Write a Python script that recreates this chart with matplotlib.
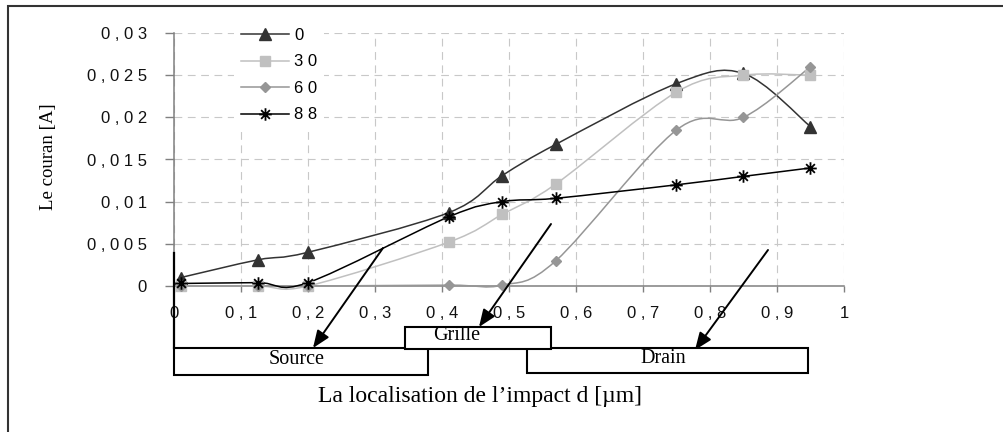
import numpy as np
import matplotlib

matplotlib.use("Agg")
import matplotlib.pyplot as plt
from matplotlib.lines import Line2D
from matplotlib.patches import FancyArrowPatch, PathPatch, Rectangle, ArrowStyle
from matplotlib.path import Path

SANS = ["Liberation Sans", "DejaVu Sans"]
SERIF = ["Liberation Serif", "DejaVu Serif"]

# impact location d [um] and current [A] per series (legend 0 / 30 / 60 / 88)
d_um = [0.01, 0.125, 0.2, 0.41, 0.49, 0.57, 0.75, 0.85, 0.95]
i_0 = [0.001, 0.0031, 0.004, 0.0087, 0.0131, 0.0168, 0.024, 0.0252, 0.0189]
i_30 = [0.0, 0.0, 0.0, 0.0052, 0.0085, 0.0121, 0.023, 0.025, 0.025]
i_60 = [0.0, 0.0, 0.0, 0.0001, 0.0001, 0.003, 0.0185, 0.02, 0.026]
i_88 = [0.0003, 0.0004, 0.0004, 0.0082, 0.01, 0.0104, 0.012, 0.013, 0.014]
series_labels = ["0", "3 0", "6 0", "8 8"]

xticks = [0, 0.1, 0.2, 0.3, 0.4, 0.5, 0.6, 0.7, 0.8, 0.9, 1.0]
xtick_labels = ["0", "0 , 1", "0 , 2", "0 , 3", "0 , 4", "0 , 5",
                "0 , 6", "0 , 7", "0 , 8", "0 , 9", "1"]
yticks = [0, 0.005, 0.01, 0.015, 0.02, 0.025, 0.03]
ytick_labels = ["0", "0 , 0 0 5", "0 , 0 1", "0 , 0 1 5", "0 , 0 2",
                "0 , 0 2 5", "0 , 0 3"]

W, H = 1004, 432


def fp(x, y):
    """pixel position (from top-left) -> figure fraction"""
    return (x / W, 1 - y / H)


def smooth_path(x, y):
    # Excel-like smoothed line: Catmull-Rom segments as cubic Beziers
    pts = np.column_stack([x, y]).astype(float)
    n = len(pts)
    verts, codes = [pts[0]], [Path.MOVETO]
    for i in range(n - 1):
        p0 = pts[i - 1] if i > 0 else pts[i]
        p1, p2 = pts[i], pts[i + 1]
        p3 = pts[i + 2] if i + 2 < n else pts[i + 1]
        verts += [p1 + (p2 - p0) / 6, p2 - (p3 - p1) / 6, p2]
        codes += [Path.CURVE4] * 3
    return Path(verts, codes)


star = Path([(-1, 0), (1, 0), (0, -1), (0, 1), (-0.7, -0.7), (0.7, 0.7), (-0.7, 0.7), (0.7, -0.7)],
            [Path.MOVETO, Path.LINETO] * 4)

styles = [
    (i_0, "#333333", dict(marker="^", markersize=8.5)),
    (i_30, "#c0c0c0", dict(marker="s", markersize=7.5)),
    (i_60, "#969696", dict(marker="D", markersize=5)),
    (i_88, "#000000", dict(marker=star, markersize=9, markeredgewidth=1.3)),
]

fig = plt.figure(figsize=(W / 100, H / 100), dpi=100)
ax = fig.add_axes([174 / W, 1 - 286 / H, 670 / W, 253 / H])

handles = []
for vals, col, mk in styles:
    ax.add_patch(PathPatch(smooth_path(d_um, vals), fill=False, edgecolor=col,
                           linewidth=1.1, clip_on=False, zorder=3))
    ax.plot(d_um, vals, linestyle="none", color=col, markeredgecolor=col,
            clip_on=False, zorder=4, **mk)
    handles.append(Line2D([], [], color=col, linewidth=1.1, markeredgecolor=col, **mk))

ax.set_xlim(0, 1)
ax.set_ylim(0, 0.03)
ax.set_xticks(xticks)
ax.set_xticklabels(xtick_labels)
ax.set_yticks(yticks)
ax.set_yticklabels(ytick_labels)
for lab in ax.get_xticklabels() + ax.get_yticklabels():
    lab.set_family(SANS)
    lab.set_fontsize(12)
    lab.set_color("#111111")
ax.tick_params(axis="y", direction="out", length=6.5, width=1, color="#808080", pad=13)
ax.tick_params(axis="x", direction="out", length=4.5, width=1, color="#808080", pad=10)
ax.grid(True, color="#c8c8c8", linewidth=0.8, linestyle=(0, (7, 5)), zorder=0)
ax.set_axisbelow(True)
for side in ("top", "right"):
    ax.spines[side].set_visible(False)
for side in ("left", "bottom"):
    ax.spines[side].set_color("#808080")
    ax.spines[side].set_linewidth(1.1)

leg = ax.legend(handles, series_labels, loc="upper left", bbox_to_anchor=fp(226, 13),
                bbox_transform=fig.transFigure, frameon=True, fancybox=False,
                facecolor="white", edgecolor="none", framealpha=1, borderpad=0.4,
                handlelength=2.9, handletextpad=0.3, labelspacing=0.69,
                prop={"family": SANS, "size": 12})

# axis titles
fig.text(*fp(480, 402), "La localisation de l\u2019impact d [\u00b5m]", family=SERIF,
         fontsize=17, ha="center", va="baseline")
fig.text(*fp(49, 157), "Le couran [A]", family=SERIF, fontsize=13.5, rotation=90,
         ha="center", va="center")

# device regions below the axis
box_kw = dict(transform=fig.transFigure, facecolor="white", edgecolor="black", linewidth=1.5)
regions = [("Source", 174, 428, 348, 375, 297, 364),
           ("Drain", 527, 808, 348, 373, 663, 363),
           ("Grille", 405, 551, 327, 349, 457, 340)]
for name, x0, x1, y0, y1, tx, ty in regions:
    fig.add_artist(Rectangle(fp(x0, y1), (x1 - x0) / W, (y1 - y0) / H, **box_kw))
    fig.text(*fp(tx, ty), name, family=SERIF, fontsize=14.5, ha="center", va="baseline")
fig.add_artist(Line2D([174 / W, 174 / W], [1 - 253 / H, 1 - 348 / H], color="black",
                      linewidth=1.6, transform=fig.transFigure))

head = ArrowStyle("-|>", head_length=0.75, head_width=0.3)
for (xa, ya), (xb, yb) in [((383, 248), (313, 348)), ((551, 224), (479, 327)),
                           ((768, 250), (695, 350))]:
    fig.add_artist(FancyArrowPatch(fp(xa, ya), fp(xb, yb), arrowstyle=head,
                                   mutation_scale=14, color="black", linewidth=1.4,
                                   shrinkA=0, shrinkB=0, transform=fig.transFigure))

# outer chart frame (cut by the image edge on the right and bottom)
fig.add_artist(Rectangle(fp(8, 440), 1010 / W, 434 / H, transform=fig.transFigure,
                         fill=False, edgecolor="#333333", linewidth=1.5))

fig.savefig("out.png", dpi=100)
